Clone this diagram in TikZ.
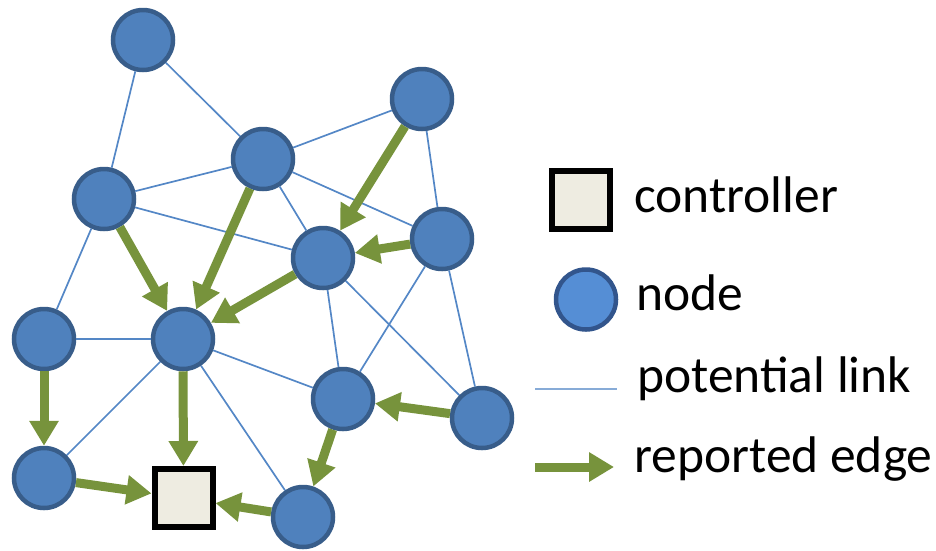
\documentclass[tikz,border=0pt]{standalone}
\usepackage{fontspec}
\setmainfont{Carlito}
\usetikzlibrary{arrows.meta}
\definecolor{nodefill}{RGB}{79,129,189}
\definecolor{nodeline}{RGB}{56,93,138}
\definecolor{keyfill}{RGB}{85,142,213}
\definecolor{keyline}{RGB}{50,85,140}
\definecolor{linkblue}{RGB}{84,135,198}
\definecolor{edgegreen}{RGB}{119,147,60}
\definecolor{ctrlfill}{RGB}{238,236,225}
\tikzset{
  netnode/.style={circle, fill=nodefill, draw=nodeline, line width=4.5pt, minimum size=60pt, inner sep=0pt},
  keynode/.style={circle, fill=keyfill, draw=keyline, line width=4.5pt, minimum size=60pt, inner sep=0pt},
  ctrlbox/.style={rectangle, fill=ctrlfill, draw=black, line width=6pt, minimum size=58pt, inner sep=0pt},
  link/.style={draw=linkblue, line width=1.7pt},
  report/.style={draw=edgegreen, line width=9pt, -{Triangle[width=28pt,length=25pt]}},
  label/.style={anchor=base west, inner sep=0pt, font=\fontsize{51.5}{60}\selectfont},
}
\begin{document}
\begin{tikzpicture}[x=1pt,y=-1pt]
\useasboundingbox (0,0) rectangle (936,550);

% network nodes
\node[netnode] (a) at (143,40) {};
\node[netnode] (b) at (422,99) {};
\node[netnode] (c) at (263,159) {};
\node[netnode] (d) at (104,199) {};
\node[netnode] (e) at (442,239) {};
\node[netnode] (f) at (323,258) {};
\node[netnode] (g) at (44,339) {};
\node[netnode] (h) at (183,339) {};
\node[netnode] (i) at (343,399) {};
\node[netnode] (j) at (482,418) {};
\node[netnode] (k) at (44,478) {};
\node[netnode] (l) at (303,517) {};
\node[ctrlbox] (ctrl) at (183.5,498) {};

% potential links
\draw[link] (a) -- (d);
\draw[link] (a) -- (c);
\draw[link] (c) -- (b);
\draw[link] (c) -- (d);
\draw[link] (c) -- (f);
\draw[link] (c) -- (e);
\draw[link] (d) -- (f);
\draw[link] (d) -- (g);
\draw[link] (b) -- (e);
\draw[link] (g) -- (h);
\draw[link] (h) -- (k);
\draw[link] (h) -- (i);
\draw[link] (h) -- (l);
\draw[link] (f) -- (i);
\draw[link] (f) -- (j);
\draw[link] (e) -- (i);
\draw[link] (e) -- (j);

% reported edges
\draw[report] (b) -- (f);
\draw[report] (e) -- (f);
\draw[report] (d) -- (h);
\draw[report] (c) -- (h);
\draw[report] (f) -- (h);
\draw[report] (g) -- (k);
\draw[report] (h) -- (ctrl);
\draw[report] (k) -- (ctrl);
\draw[report] (l) -- (ctrl);
\draw[report] (j) -- (i);
\draw[report] (i) -- (l);

% legend
\node[ctrlbox] (keyctrl) at (581,199.5) {};
\node[label] (tctrl) at (634,212) {controller};
\node[keynode] (keynode) at (586,299.5) {};
\node[label] (tnode) at (636,310) {node};
\coordinate (linkA) at (535,389);
\coordinate (linkB) at (617,389);
\draw[link, draw=linkblue!70] (linkA) -- (linkB);
\node[label] (tlink) at (637,392) {potential link};
\coordinate (edgeA) at (535,467);
\coordinate (edgeB) at (614,467);
\draw[report] (edgeA) -- (edgeB);
\node[label] (tedge) at (634,472) {reported edge};
\end{tikzpicture}
\end{document}
